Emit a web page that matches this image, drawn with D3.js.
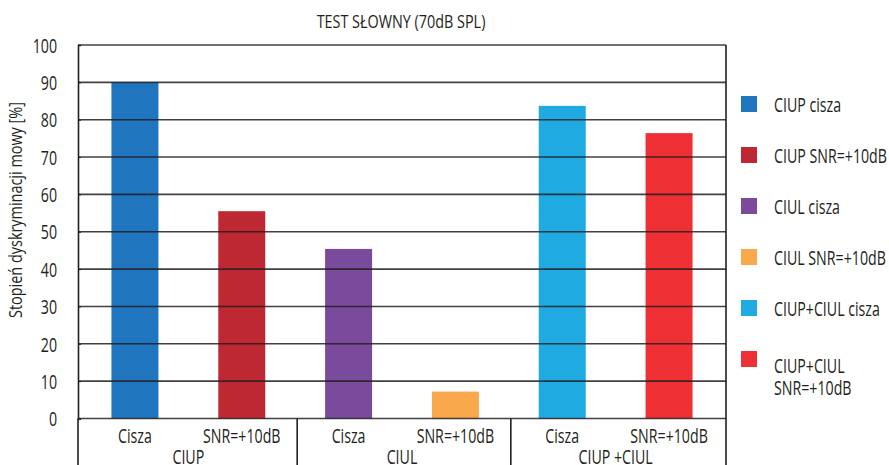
<!DOCTYPE html>
<html>
<head>
<meta charset="utf-8">
<script src="https://cdn.jsdelivr.net/npm/d3@7/dist/d3.min.js"></script>
<style>
  html, body { margin: 0; padding: 0; background: #fff; }
  svg { display: block; }
  text { font-family: "Open Sans", "Noto Sans", "Liberation Sans", sans-serif; fill: #231f20; }
</style>
</head>
<body>
<svg id="chart" width="889" height="465"></svg>
<script>
// Speech discrimination test results (70 dB SPL)
const categories = ["CIUP cisza", "CIUP SNR=+10dB", "CIUL cisza", "CIUL SNR=+10dB", "CIUP+CIUL cisza", "CIUP+CIUL SNR=+10dB"];
const conditionLabels = ["Cisza", "SNR=+10dB", "Cisza", "SNR=+10dB", "Cisza", "SNR=+10dB"];
const groups = ["CIUP", "CIUL", "CIUP +CIUL"];
const values = [90, 55.5, 45.4, 7.2, 83.7, 76.4];
const colors = ["#1f75be", "#be2833", "#7a4a9c", "#f9a94b", "#1fabe2", "#ee2f33"];
const yTicks = [0, 10, 20, 30, 40, 50, 60, 70, 80, 90, 100];
const legendLines = [["CIUP cisza"], ["CIUP SNR=+10dB"], ["CIUL cisza"], ["CIUL SNR=+10dB"], ["CIUP+CIUL cisza"], ["CIUP+CIUL", "SNR=+10dB"]];

const svg = d3.select("#chart");
const plot = { left: 78, right: 726, top: 45, bottom: 418.5 };
const INK = "#231f20";
const NARROW = 0.71; // horizontal squeeze giving a condensed face

// Move a text's x/y into a transform so it can be squeezed around its anchor point
function condense(sel, k, extra = "") {
  sel.each(function () {
    const t = d3.select(this);
    const tx = +t.attr("x") || 0;
    const ty = +t.attr("y") || 0;
    t.attr("x", 0).attr("y", 0)
      .attr("transform", `translate(${tx},${ty}) ${extra} scale(${k},1)`);
  });
}

const x = d3.scaleBand()
  .domain(categories)
  .range([plot.left, plot.right])
  .paddingInner(0.56)
  .paddingOuter(0.313);

const y = d3.scaleLinear().domain([0, 100]).range([plot.bottom, plot.top]);

// Bars
svg.append("g").selectAll("rect")
  .data(categories)
  .join("rect")
  .attr("x", d => x(d))
  .attr("width", x.bandwidth())
  .attr("y", (d, i) => y(values[i]))
  .attr("height", (d, i) => y(0) - y(values[i]))
  .attr("fill", (d, i) => colors[i]);

// Horizontal gridlines, drawn over the bars
svg.append("g").selectAll("line")
  .data(yTicks)
  .join("line")
  .attr("x1", plot.left)
  .attr("x2", plot.right)
  .attr("y1", d => y(d))
  .attr("y2", d => y(d))
  .attr("stroke", INK)
  .attr("stroke-opacity", 0.85)
  .attr("stroke-width", 1.6);

// Y axis
const yAxis = d3.axisLeft(y).tickValues(yTicks).tickSize(-3).tickPadding(21);
const yg = svg.append("g").attr("transform", `translate(${plot.left},0)`).call(yAxis);
yg.attr("font-family", null);
yg.select(".domain").attr("stroke", INK).attr("stroke-width", 1.6);
yg.selectAll(".tick line").attr("stroke", INK);
yg.selectAll(".tick text")
  .attr("font-size", 20)
  .attr("fill", INK)
  .attr("dy", "0.36em")
  .each(function () {
    const t = d3.select(this);
    const tx = +t.attr("x");
    t.attr("x", 0).attr("transform", `translate(${tx},0) scale(${NARROW},1)`);
  });

// Right border of plot area, extended down through the category area
svg.append("line")
  .attr("x1", plot.right).attr("x2", plot.right)
  .attr("y1", plot.top).attr("y2", 465)
  .attr("stroke", INK).attr("stroke-width", 1.6);
svg.append("line")
  .attr("x1", plot.left).attr("x2", plot.left)
  .attr("y1", plot.bottom).attr("y2", 465)
  .attr("stroke", INK).attr("stroke-width", 1.6);

// Group separators between categories
const centers = categories.map(c => x(c) + x.bandwidth() / 2);
[2, 4].forEach(i => {
  const sx = (x(categories[i - 1]) + x.bandwidth() + x(categories[i])) / 2 + 2;
  svg.append("line")
    .attr("x1", sx).attr("x2", sx)
    .attr("y1", plot.bottom).attr("y2", 465)
    .attr("stroke", INK).attr("stroke-width", 1.6);
});

// Condition labels
svg.append("g").selectAll("text")
  .data(conditionLabels)
  .join("text")
  .attr("x", (d, i) => centers[i])
  .attr("y", 443)
  .attr("text-anchor", "middle")
  .attr("font-size", 20)
  .text(d => d)
  .call(condense, NARROW);

// Group labels
svg.append("g").selectAll("text")
  .data(groups)
  .join("text")
  .attr("x", (d, i) => (centers[2 * i] + centers[2 * i + 1]) / 2)
  .attr("y", 464)
  .attr("text-anchor", "middle")
  .attr("font-size", 20)
  .text(d => d)
  .call(condense, NARROW);

// Title
svg.append("text")
  .attr("x", 401)
  .attr("y", 28)
  .attr("text-anchor", "middle")
  .attr("font-size", 18)
  .text("TEST SŁOWNY (70dB SPL)")
  .call(condense, 0.8);

// Y axis title
svg.append("text")
  .attr("x", 22)
  .attr("y", 210)
  .attr("text-anchor", "middle")
  .attr("font-size", 19)
  .text("Stopień dyskryminacji mowy [%]")
  .call(condense, 0.76, "rotate(-90)");

// Legend
const legend = svg.append("g");
const rowTop = i => 96 + i * 51;
legend.selectAll("rect")
  .data(categories)
  .join("rect")
  .attr("x", 741)
  .attr("y", (d, i) => rowTop(i))
  .attr("width", 16)
  .attr("height", 16)
  .attr("fill", (d, i) => colors[i]);
legend.selectAll("text")
  .data(legendLines)
  .join("text")
  .attr("x", 774)
  .attr("y", (d, i) => rowTop(i) + (d.length > 1 ? 22 : 16))
  .attr("font-size", 20)
  .each(function (lines) {
    d3.select(this).selectAll("tspan")
      .data(lines)
      .join("tspan")
      .attr("x", 0)
      .attr("dy", (l, j) => j === 0 ? 0 : 22)
      .text(l => l);
  })
  .call(condense, NARROW);
</script>
</body>
</html>
